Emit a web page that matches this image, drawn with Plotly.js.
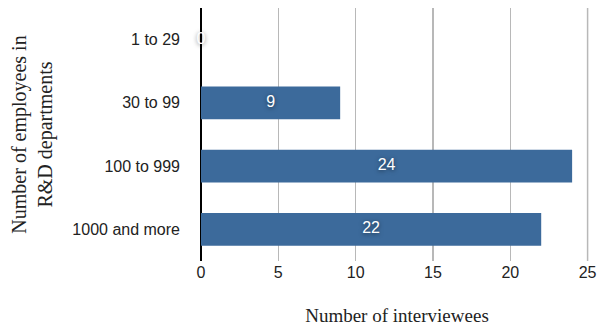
<!DOCTYPE html>
<html>
<head>
<meta charset="utf-8">
<script src="https://cdn.plot.ly/plotly-3.0.1.min.js"></script>
<style>html,body{margin:0;padding:0;background:#fff;}#chart{width:597px;height:327px;}</style>
</head>
<body>
<div id="chart"></div>
<script>
const categories = ["1 to 29", "30 to 99", "100 to 999", "1000 and more"];
const values = [0, 9, 24, 22];
const xTickValues = [0, 5, 10, 15, 20, 25];
const xTitle = "Number of interviewees";
const yTitle = "Number of employees in<br>R&D departments";

const barTrace = {
  type: "bar",
  orientation: "h",
  y: categories,
  x: values,
  marker: {color: "#3c6a9b", line: {width: 0}},
  width: 0.52,
  hoverinfo: "skip",
  showlegend: false
};
const labelTrace = {
  type: "scatter",
  mode: "text",
  y: categories,
  x: values.map(v => v / 2),
  text: values.map(String),
  textposition: "middle center",
  textfont: {family: "Liberation Sans, Arial, sans-serif", size: 16, color: "#ffffff",
             shadow: "0px 1px 4px rgba(0,0,0,0.55)"},
  hoverinfo: "skip",
  showlegend: false,
  cliponaxis: false
};

const lastTick = xTickValues[xTickValues.length - 1];

const layout = {
  width: 597, height: 327,
  margin: {l: 201, r: 4, t: 8, b: 66},
  paper_bgcolor: "#ffffff",
  plot_bgcolor: "#ffffff",
  xaxis: {
    range: [0, 25.35],
    tickvals: xTickValues,
    showgrid: true, gridcolor: "#b8b8b8", gridwidth: 1.5,
    zeroline: true, zerolinecolor: "#000000", zerolinewidth: 1.5,
    showline: false,
    ticks: "",
    ticklabeloverflow: "allow",
    tickfont: {family: "Liberation Sans, Arial, sans-serif", size: 16, color: "#222"},
    title: {text: xTitle, font: {family: "Liberation Serif, Times New Roman, serif", size: 19, color: "#222"}, standoff: 28},
    fixedrange: true
  },
  yaxis: {
    type: "category",
    autorange: "reversed",
    showgrid: false,
    showline: false,
    zeroline: false,
    ticks: "",
    ticklabelstandoff: 20,
    tickfont: {family: "Liberation Sans, Arial, sans-serif", size: 16, color: "#222"},
    title: {text: yTitle, font: {family: "Liberation Serif, Times New Roman, serif", size: 20, color: "#222"}, standoff: 14},
    fixedrange: true
  },
  shapes: [{
    type: "line", layer: "below",
    xref: "x", yref: "paper",
    x0: lastTick, x1: lastTick, y0: 0, y1: 1,
    line: {color: "#b8b8b8", width: 1.5}
  }]
};

Plotly.newPlot("chart", [barTrace, labelTrace], layout, {displayModeBar: false, staticPlot: true});
</script>
</body>
</html>
